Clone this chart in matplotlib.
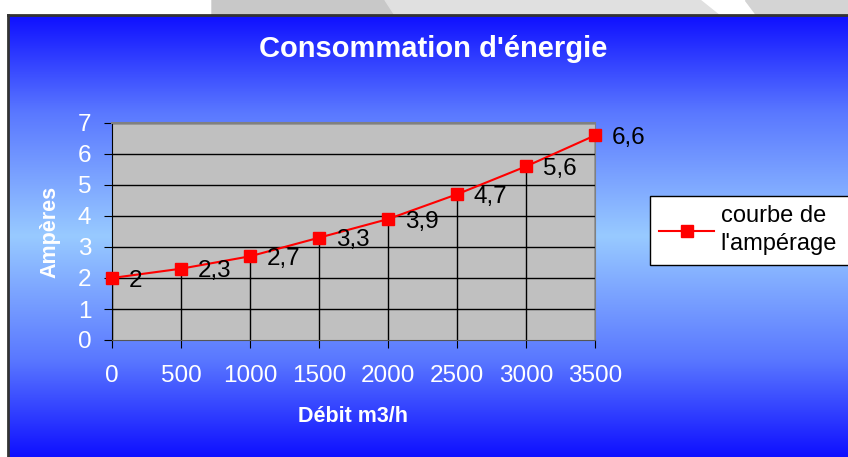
import numpy as np
import matplotlib
matplotlib.use("Agg")
import matplotlib.pyplot as plt
from matplotlib.colors import LinearSegmentedColormap
from matplotlib.patches import Polygon

plt.rcParams['font.family'] = ['Liberation Sans', 'DejaVu Sans']

# data
debit = ['0', '500', '1000', '1500', '2000', '2500', '3000', '3500']
amperes = [2, 2.3, 2.7, 3.3, 3.9, 4.7, 5.6, 6.6]
labels = ['2', '2,3', '2,7', '3,3', '3,9', '4,7', '5,6', '6,6']

W, H = 848, 457
fig = plt.figure(figsize=(W / 100, H / 100), dpi=100)
fig.patch.set_facecolor('white')

# slide background strip at the top
top = fig.add_axes([0, 0, 1, 1], zorder=-3)
top.set_xlim(0, W)
top.set_ylim(H, 0)
top.axis('off')
top.add_patch(Polygon([[212, 0], [385, 0], [398, 20], [212, 20]], color='#c8c8c8'))
top.add_patch(Polygon([[385, 0], [700, 0], [725, 20], [398, 20]], color='#e0e0e0'))
top.add_patch(Polygon([[745, 0], [848, 0], [848, 20], [760, 20]], color='#d4d4d4'))

# blue gradient frame
bg = fig.add_axes([8 / W, 0, 1 - 8 / W, 1 - 15 / H], zorder=-2)
cmap = LinearSegmentedColormap.from_list(
    'bl', [(0.0, '#0f10ff'), (0.22, '#5a78ff'), (0.5, '#98caff'),
           (0.78, '#5a78ff'), (1.0, '#0f10ff')])
grad = np.linspace(0, 1, 256).reshape(-1, 1)
bg.imshow(grad, aspect='auto', cmap=cmap, extent=[0, 1, 1, 0])
bg.set_xlim(0, 1)
bg.set_ylim(1, 0)
bg.set_xticks([])
bg.set_yticks([])
for s in ['right', 'bottom']:
    bg.spines[s].set_visible(False)
for s in ['left', 'top']:
    bg.spines[s].set_color('#333333')
    bg.spines[s].set_linewidth(2)

# plot area
ax = fig.add_axes([112 / W, 1 - 340 / H, (595 - 112) / W, (340 - 123) / H])
ax.set_facecolor('#c0c0c0')
x = np.arange(len(debit))
ax.set_xlim(0, len(debit) - 1)
ax.set_ylim(0, 7)
ax.set_yticks(range(8))
ax.set_xticks(x)
ax.set_xticklabels(debit)
for yv in range(1, 8):
    ax.axhline(yv, color='black', lw=1, zorder=1)
ax.vlines(x, 0, amperes, color='black', lw=1, zorder=1)
ax.plot(x, amperes, color='#ff0000', lw=1.5, marker='s', markersize=8,
        markerfacecolor='#ff0000', markeredgecolor='#ff0000', zorder=3,
        clip_on=False, label="courbe de\nl'ampérage")
for xi, yi, t in zip(x, amperes, labels):
    ax.annotate(t, (xi, yi), xytext=(12, -2), textcoords='offset points',
                ha='left', va='center', fontsize=17.5, color='black', zorder=4)

ax.spines['left'].set_color('black')
ax.spines['bottom'].set_color('#555555')
ax.spines['top'].set_color('#808080')
ax.spines['right'].set_color('#808080')
ax.spines['top'].set_linewidth(1.5)
ax.tick_params(axis='both', direction='out', length=6, color='black',
               labelcolor='white', labelsize=17.5)
ax.tick_params(axis='x', pad=12)
ax.tick_params(axis='y', pad=9)

ax.set_xlabel('Débit m3/h', color='white', fontsize=15.5, fontweight='bold', labelpad=14)
ax.set_ylabel('Ampères', color='white', fontsize=15.5, fontweight='bold', labelpad=12)
fig.text(433 / W, 1 - 49 / H, "Consommation d'énergie", color='white',
         fontsize=21, fontweight='bold', ha='center', va='center')

# legend box runs past the right edge, as in the original
leg = fig.legend(loc='upper left',
                 bbox_to_anchor=(650 / W, 1 - 265 / H, 220 / W, 69 / H),
                 mode='expand', fontsize=17, frameon=True, fancybox=False,
                 handlelength=2.3, borderpad=0.4, handletextpad=0.3,
                 borderaxespad=0)
for t in leg.get_texts():
    t.set_linespacing(1.35)
leg.get_frame().set_edgecolor('black')
leg.get_frame().set_linewidth(1)
leg.get_frame().set_facecolor('white')
leg.get_frame().set_alpha(1)

fig.savefig('out.png', dpi=100)
